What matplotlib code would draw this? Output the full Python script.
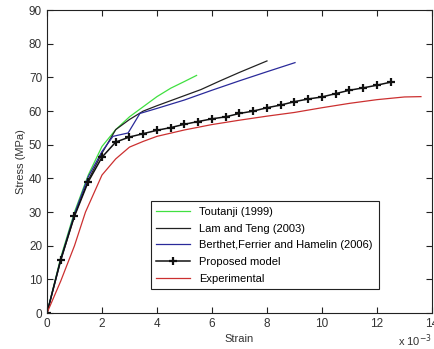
import numpy as np
import matplotlib
matplotlib.use("Agg")
import matplotlib.pyplot as plt

plt.rcParams["font.family"] = ["Liberation Sans", "DejaVu Sans"]

# strain in units of 1e-3, stress in MPa
toutanji_strain = [0, 0.5, 1.0, 1.5, 2.0, 2.5, 3.0, 3.5, 4.0, 4.5, 5.0, 5.44]
toutanji_stress = [0, 16.5, 30, 41, 49.5, 54.5, 58.3, 61.3, 64.3, 66.8, 68.8, 70.6]

lam_strain = [0, 0.5, 1.0, 1.5, 2.0, 2.5, 3.0, 3.5, 4.0, 4.8, 5.6, 6.3, 7.0, 8.0]
lam_stress = [0, 15.5, 29, 39.5, 47.5, 54.5, 57.5, 60, 61.6, 64, 66.4, 69, 71.5, 74.9]

berthet_strain = [0, 0.5, 1.0, 1.5, 2.0, 2.4, 2.95, 3.38, 4.0, 5.0, 6.0, 7.0, 8.0, 9.02]
berthet_stress = [0, 16, 29.5, 40.5, 48, 52.5, 53.5, 59.3, 60.8, 63.3, 66.2, 69, 71.7, 74.4]

proposed_strain = [0, 0.5, 1.0, 1.5, 2.0, 2.5, 3.0, 3.5, 4.0, 4.5, 5.0, 5.5, 6.0,
                   6.5, 7.0, 7.5, 8.0, 8.5, 9.0, 9.5, 10.0, 10.5, 11.0, 11.5, 12.0, 12.5]
proposed_stress = [0, 15.9, 28.8, 39, 46.3, 50.8, 52.3, 53.3, 54.3, 55.1, 56.1, 56.9, 57.7,
                   58.3, 59.3, 60.0, 61.0, 61.8, 62.8, 63.6, 64.2, 65.2, 66.2, 66.9, 67.7, 68.6]

exp_strain = [0, 0.5, 1.0, 1.4, 2.0, 2.5, 3.0, 3.5, 4.0, 5.0, 6.0, 7.0, 8.0, 9.0,
              10.0, 11.0, 12.0, 13.0, 13.6]
exp_stress = [0, 9.5, 20, 30, 41, 45.8, 49.3, 51, 52.5, 54.4, 56, 57.3, 58.5, 59.6,
              61, 62.3, 63.4, 64.2, 64.3]

fig = plt.figure(figsize=(4.35, 3.49), dpi=100)
ax = fig.add_axes([0.108, 0.103, 0.885, 0.868])

ax.plot(toutanji_strain, toutanji_stress, color="#40e040", lw=0.9, label="Toutanji (1999)")
ax.plot(lam_strain, lam_stress, color="#222222", lw=0.9, label="Lam and Teng (2003)")
ax.plot(berthet_strain, berthet_stress, color="#2a2a9a", lw=0.9,
        label="Berthet,Ferrier and Hamelin (2006)")
ax.plot(proposed_strain, proposed_stress, color="#111111", lw=1.1, marker="+",
        markersize=6, markeredgewidth=1.6, label="Proposed model")
ax.plot(exp_strain, exp_stress, color="#cc3030", lw=0.9, label="Experimental")

ax.set_xlim(0, 14)
ax.set_ylim(0, 90)
ax.set_xticks(np.arange(0, 15, 2))
ax.set_yticks(np.arange(0, 91, 10))
ax.tick_params(direction="in", top=True, right=True, labelsize=8.5,
               length=4, width=0.8, colors="#222222", labelcolor="#333333")
for s in ax.spines.values():
    s.set_linewidth(0.8)
    s.set_color("#222222")

ax.set_xlabel("Strain", fontsize=8, color="#333333", labelpad=3)
ax.set_ylabel("Stress (MPa)", fontsize=8, color="#333333", labelpad=2)
ax.text(1.0, -0.065, r"x 10$^{-3}$", transform=ax.transAxes, ha="right", va="top",
        fontsize=8, color="#333333")

leg = ax.legend(loc="lower left", bbox_to_anchor=(0.27, 0.079, 0.592, 0.287),
                mode="expand", fontsize=8, fancybox=False, framealpha=1,
                edgecolor="#222222", handlelength=3.0, labelspacing=0.6,
                borderaxespad=0, borderpad=0.5)
leg.get_frame().set_linewidth(0.8)

fig.savefig("out.png", dpi=100)
